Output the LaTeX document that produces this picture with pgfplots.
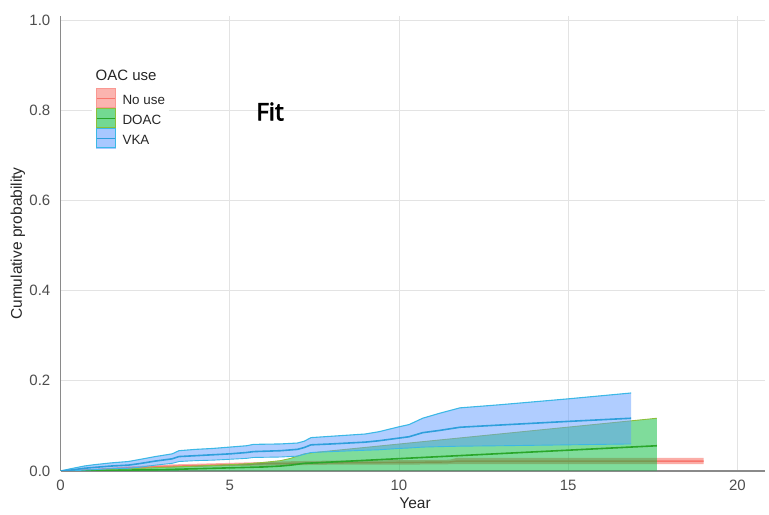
\documentclass[border=0pt]{standalone}
\usepackage{pgfplots}
\pgfplotsset{compat=1.18}
\usepackage{fontspec}
\setmainfont{Liberation Sans}
\newfontfamily\fitfont[FakeBold=3]{Noto Sans}
\definecolor{cRed}{HTML}{F8766D}
\definecolor{cGreen}{HTML}{00BA38}
\definecolor{cBlue}{HTML}{619CFF}
\definecolor{cBlueLine}{HTML}{2E9FDB}
\definecolor{cBlueEdge}{HTML}{3CB8E6}
\definecolor{cGreenLine}{HTML}{2AA62A}
\definecolor{cGreenEdge}{HTML}{8CBF3A}
\definecolor{cGrid}{HTML}{E3E3E3}
\definecolor{cAxis}{HTML}{8A8A8A}
\definecolor{cTick}{HTML}{4D4D4D}

% VKA: x, upper, mean, lower
\pgfplotstableread{
x u m l
0 0 0 0
0.3 0.005 0.002 0.0
0.7 0.011 0.006 0.002
1.0 0.014 0.008 0.003
1.5 0.018 0.011 0.005
2.0 0.021 0.013 0.006
2.3 0.025 0.016 0.008
2.8 0.032 0.022 0.013
3.3 0.038 0.027 0.017
3.5 0.045 0.032 0.021
4.0 0.048 0.034 0.023
4.5 0.050 0.036 0.024
5.0 0.053 0.038 0.026
5.5 0.056 0.041 0.028
5.7 0.059 0.043 0.030
6.5 0.060 0.045 0.031
7.0 0.062 0.048 0.033
7.2 0.066 0.052 0.037
7.4 0.074 0.058 0.041
8.0 0.077 0.060 0.043
9.0 0.082 0.064 0.046
9.4 0.087 0.067 0.047
10.0 0.098 0.073 0.050
10.3 0.103 0.076 0.051
10.7 0.117 0.085 0.053
11.2 0.128 0.090 0.054
11.8 0.140 0.097 0.055
13.0 0.147 0.102 0.056
15.0 0.160 0.110 0.058
16.86 0.173 0.117 0.060
}\vka
% VKA ribbon polygon (upper forward, lower back)
\pgfplotstableread{
x y
0 0
0.3 0.005
0.7 0.011
1.0 0.014
1.5 0.018
2.0 0.021
2.3 0.025
2.8 0.032
3.3 0.038
3.5 0.045
4.0 0.048
4.5 0.050
5.0 0.053
5.5 0.056
5.7 0.059
6.5 0.060
7.0 0.062
7.2 0.066
7.4 0.074
8.0 0.077
9.0 0.082
9.4 0.087
10.0 0.098
10.3 0.103
10.7 0.117
11.2 0.128
11.8 0.140
13.0 0.147
15.0 0.160
16.86 0.173
16.86 0.060
15.0 0.058
13.0 0.056
11.8 0.055
11.2 0.054
10.7 0.053
10.3 0.051
10.0 0.050
9.4 0.047
9.0 0.046
8.0 0.043
7.4 0.041
7.2 0.037
7.0 0.033
6.5 0.031
5.7 0.030
5.5 0.028
5.0 0.026
4.5 0.024
4.0 0.023
3.5 0.021
3.3 0.017
2.8 0.013
2.3 0.008
2.0 0.006
1.5 0.005
1.0 0.003
0.7 0.002
0.3 0.0
0 0
}\vkaband

\pgfplotstableread{
x u m
0 0 0
1 0.002 0.0005
2 0.005 0.002
3 0.008 0.003
4 0.011 0.005
5 0.014 0.007
5.5 0.016 0.008
6 0.019 0.009
6.5 0.023 0.011
6.8 0.028 0.013
7.0 0.033 0.015
7.2 0.038 0.017
7.5 0.041 0.018
17.62 0.117 0.056
}\doac
\pgfplotstableread{
x y
0 0
1 0.002
2 0.005
3 0.008
4 0.011
5 0.014
5.5 0.016
6 0.019
6.5 0.023
6.8 0.028
7.0 0.033
7.2 0.038
7.5 0.041
17.62 0.117
17.62 0.001
7.5 0.001
3 0.0005
2 0
0 0
}\doacband

\pgfplotstableread{
x m
0 0
1 0.003
2 0.007
3 0.010
4 0.012
5 0.014
6 0.016
7 0.017
8 0.018
10 0.019
11.5 0.020
11.7 0.022
19.0 0.022
}\nouse
\pgfplotstableread{
x y
0 0
1 0.005
2 0.010
3 0.014
4 0.016
5 0.018
6 0.020
7 0.022
8 0.023
10 0.024
11.5 0.025
11.7 0.029
19.0 0.029
19.0 0.015
11.5 0.015
10 0.014
8 0.014
7 0.013
6 0.012
5 0.011
4 0.009
3 0.007
2 0.004
1 0.001
0 0
}\nouseband

\begin{document}
\begin{tikzpicture}
\begin{axis}[
  at={(60.5bp,44bp)}, anchor=south west,
  scale only axis, width=704bp, height=455bp,
  xmin=0, xmax=20.8, ymin=0, ymax=1.009,
  axis x line*=bottom, axis y line*=left,
  axis line style={draw=cAxis, line width=1.3bp, -},
  xtick={0,5,10,15,20}, ytick={0,0.2,0.4,0.6,0.8,1.0},
  major tick length=0pt,
  grid=major, major grid style={draw=cGrid, line width=0.9bp},
  /pgf/number format/assume math mode=true,
  yticklabel style={/pgf/number format/.cd, fixed, fixed zerofill, precision=1, /tikz/.cd, inner sep=0pt, xshift=-10bp, text=cTick, font=\fontsize{15bp}{18bp}\selectfont},
  xticklabel style={inner sep=0pt, yshift=-9bp, text=cTick, font=\fontsize{15bp}{18bp}\selectfont},
  xlabel={Year}, ylabel={Cumulative probability},
  xlabel style={at={(axis description cs:0.5036,-0.0703)}, anchor=center, font=\fontsize{15.5bp}{18bp}\selectfont, text=black!85},
  ylabel style={at={(axis description cs:-0.0604,0.5)}, anchor=center, font=\fontsize{15.5bp}{18bp}\selectfont, text=black!85},
  legend style={at={(axis description cs:0.0447,0.8505)}, anchor=north west, draw=none, fill=white, inner sep=4bp, row sep=0pt, column sep=7bp, nodes={inner sep=0pt, font=\fontsize{13.4bp}{15bp}\selectfont, text=black!85}},
  legend cell align=left,
]
% No use
\addplot[fill=cRed, fill opacity=0.6, draw=none, forget plot] table[x=x,y=y]{\nouseband} -- cycle;
\addplot[cRed, line width=1.4bp, forget plot] table[x=x,y=m]{\nouse};
% DOAC
\addplot[fill=cGreen, fill opacity=0.5, draw=none, forget plot] table[x=x,y=y]{\doacband} -- cycle;
\addplot[cGreenEdge, line width=0.9bp, forget plot] table[x=x,y=u]{\doac};
\addplot[cGreenLine, line width=1.6bp, forget plot] table[x=x,y=m]{\doac};
% VKA
\addplot[fill=cBlue, fill opacity=0.5, draw=none, forget plot] table[x=x,y=y]{\vkaband} -- cycle;
\addplot[cBlueEdge, line width=1.1bp, forget plot] table[x=x,y=u]{\vka};
\addplot[cBlueEdge, line width=0.9bp, forget plot] table[x=x,y=l]{\vka};
\addplot[cBlueLine, line width=1.6bp, forget plot] table[x=x,y=m]{\vka};
% legend
\addlegendimage{legend image code/.code={
  \fill[cRed!55!white] (0bp,-9.8bp) rectangle (19bp,9.8bp);
  \draw[cRed!75!white, line width=0.8bp] (0.4bp,-9.4bp) rectangle (18.6bp,9.4bp);
  \draw[cRed, line width=1.2bp] (0.4bp,0bp) -- (18.6bp,0bp);}}
\addlegendentry[yshift=-2bp]{No use}
\addlegendimage{legend image code/.code={
  \fill[cGreen!55!white] (0bp,-9.8bp) rectangle (19bp,9.8bp);
  \draw[cGreenEdge, line width=0.8bp] (0.4bp,-9.4bp) rectangle (18.6bp,9.4bp);
  \draw[cGreenLine, line width=1.2bp] (0.4bp,0bp) -- (18.6bp,0bp);}}
\addlegendentry[yshift=-2bp]{DOAC}
\addlegendimage{legend image code/.code={
  \fill[cBlue!55!white] (0bp,-9.8bp) rectangle (19bp,9.8bp);
  \draw[cBlueEdge, line width=0.8bp] (0.4bp,-9.4bp) rectangle (18.6bp,9.4bp);
  \draw[cBlueLine, line width=1.2bp] (0.4bp,0bp) -- (18.6bp,0bp);}}
\addlegendentry[yshift=-2bp]{VKA}
\node[anchor=west, inner sep=0pt, fill=white, font=\fontsize{15bp}{17bp}\selectfont, text=black!85] at (axis description cs:0.0497,0.8703) {OAC use};
\node[font=\fitfont\fontsize{24bp}{28bp}\selectfont] at (axis cs:6.19,0.797) {Fit};
\end{axis}
\pgfresetboundingbox
\path[use as bounding box] (0,0) rectangle (769bp,515bp);
\end{tikzpicture}
\end{document}
